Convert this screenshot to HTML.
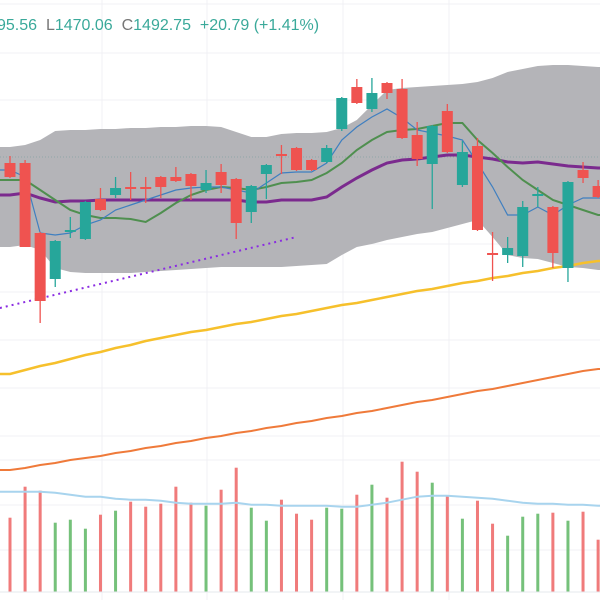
<!DOCTYPE html>
<html><head><meta charset="utf-8"><style>
html,body{margin:0;padding:0;background:#fff;width:600px;height:600px;overflow:hidden}
#hdr{position:absolute;left:-3px;top:17px;font:16px "Liberation Sans",sans-serif;color:#3aa99a;white-space:nowrap}
#hdr .g{color:#777}
</style></head><body>
<svg id="chart" width="600" height="600" viewBox="0 0 600 600" style="position:absolute;left:0;top:0"></svg>
<div id="hdr"><span>95.56</span>&nbsp; <span class="g">L</span><span>1470.06</span>&nbsp; <span class="g">C</span><span>1492.75</span>&nbsp; <span>+20.79 (+1.41%)</span></div>
<script>
const opens=[1437,1437,1367,1321,1368,1361,1401,1405,1413,1413,1423,1423,1426,1410,1428,1421,1388,1426,1446,1452,1440,1438,1471,1513,1491,1517,1511,1465,1436,1489,1415,1454,1347,1345,1344,1405,1393,1332,1430,1414];
const highs=[1444,1440,1368,1360,1383,1399,1412,1423,1428,1423,1424,1433,1427,1430,1436,1422,1415,1436,1455,1453,1441,1455,1503,1521,1522,1518,1521,1478,1475,1496,1459,1462,1368,1363,1399,1413,1394,1419,1438,1420];
const lows=[1422,1353,1277,1313,1362,1360,1389,1402,1400,1397,1402,1418,1400,1407,1407,1361,1377,1401,1426,1429,1429,1437,1469,1496,1488,1501,1461,1434,1391,1447,1413,1369,1319,1337,1333,1393,1332,1318,1417,1402];
const closes=[1423,1353,1299,1359,1370,1398,1390,1412,1412,1411,1413,1419,1414,1417,1415,1377,1414,1435,1445,1430,1430,1452,1502,1497,1507,1507,1462,1441,1474,1448,1448,1370,1345,1352,1393,1406,1347,1418,1422,1403];
const maFast=[1430,1423,1367,1365,1367,1375,1380,1390,1395,1400,1405,1410,1412,1413,1413,1410,1407,1417,1427,1428,1428,1437,1460,1473,1483,1491,1482,1470,1467,1464,1460,1437,1413,1385,1385,1393,1385,1395,1402,1402];
const maMid=[1420,1420,1410,1400,1390,1385,1382,1382,1381,1378,1387,1397,1405,1410,1413,1412,1410,1413,1417,1418,1420,1427,1437,1450,1460,1468,1470,1471,1474,1477,1477,1460,1447,1433,1420,1410,1400,1395,1390,1385];
const maSlow=[1405,1407,1402,1398,1399,1399,1400,1400,1400,1400,1400,1400,1400,1400,1400,1400,1398,1398,1400,1400,1400,1403,1413,1422,1430,1437,1440,1441,1443,1445,1445,1443,1441,1438,1437,1438,1436,1434,1433,1432];
const bbUpper=[1453,1455,1460,1469,1470,1470,1471,1471,1472,1472,1473,1473,1474,1474,1473,1468,1463,1463,1466,1467,1467,1468,1472,1480,1495,1510,1512,1513,1514,1515,1516,1518,1522,1528,1531,1534,1535,1535,1534,1533];
const bbLower=[1353,1355,1350,1332,1328,1327,1327,1327,1327,1328,1329,1330,1331,1332,1333,1333,1333,1333,1333,1334,1335,1336,1345,1353,1356,1360,1363,1366,1368,1372,1376,1380,1363,1345,1342,1341,1337,1333,1332,1330];
const ma100=[1226,1230,1234,1237,1241,1245,1248,1252,1255,1259,1262,1265,1268,1270,1273,1276,1278,1281,1284,1286,1289,1292,1295,1297,1300,1303,1306,1309,1311,1314,1317,1319,1322,1324,1327,1329,1332,1334,1337,1339];
const ma200=[1130,1132,1135,1137,1140,1142,1144,1147,1149,1152,1154,1157,1159,1162,1164,1167,1169,1172,1174,1177,1179,1182,1184,1187,1189,1192,1195,1198,1200,1203,1206,1209,1211,1214,1217,1220,1223,1226,1229,1231];
const volumes=[74,105,101,69,72,63,77,81,90,85,88,105,89,86,102,124,84,71,92,78,72,84,83,97,107,94,130,120,109,96,73,91,68,56,75,78,79,71,80,52];
const volMA=[100,100,100,99,97,95,95,93,92,92,91,89,88,88,88,89,87,87,86,86,86,86,85,85,87,89,92,95,96,96,95,94,93,91,89,88,88,87,87,86];
const trendPts=[[-0.67,1292],[19,1363]];
const lastPrice=1443;

const svg=document.getElementById('chart');
const NS='http://www.w3.org/2000/svg';
const x=i=>10+15.08*i;
const y=v=>1600-v;
const vy=v=>591.7-v;
function mk(tag,attrs,parent){const e=document.createElementNS(NS,tag);for(const k in attrs)e.setAttribute(k,attrs[k]);(parent||svg).appendChild(e);return e;}
const n=opens.length;
function pts(arr,fy){const p=[[0,fy(arr[0])]];arr.forEach((v,i)=>p.push([x(i),fy(v)]));p.push([600,fy(arr[n-1])]);return p;}
function pathOf(p){return p.map((q,i)=>(i?'L':'M')+q[0].toFixed(1)+' '+q[1].toFixed(1)).join(' ');}

const grid=mk('g',{});


[102,207,343,449].forEach(gx=>mk('line',{x1:gx,x2:gx,y1:0,y2:600,stroke:'#f0f1f4','stroke-width':1},grid));
[4,53,100,148,196,244,292,340,388,436,460,505,550].forEach(gy=>mk('line',{x1:0,x2:600,y1:gy,y2:gy,stroke:'#f0f1f4','stroke-width':1},grid));

const up=pts(bbUpper,y),lo=pts(bbLower,y).reverse();
const band=mk('path',{d:pathOf(up)+' '+lo.map(q=>'L'+q[0].toFixed(1)+' '+q[1].toFixed(1)).join(' ')+'Z',fill:'#b4b4b8'});



const lp=mk('line',{x1:0,x2:600,y1:y(lastPrice),y2:y(lastPrice),stroke:'#8fa6a8','stroke-width':1,'stroke-dasharray':'1 2'});



const l200=mk('path',{d:pathOf(pts(ma200,y)),fill:'none',stroke:'#ef7a3a','stroke-width':2});


const l100=mk('path',{d:pathOf(pts(ma100,y)),fill:'none',stroke:'#f6c02c','stroke-width':2.5});



const tl=mk('line',{x1:x(trendPts[0][0]),y1:y(trendPts[0][1]),x2:x(trendPts[1][0]),y2:y(trendPts[1][1]),stroke:'#8a2be2','stroke-width':2,'stroke-dasharray':'2 4'});



const ls=mk('path',{d:pathOf(pts(maSlow,y)),fill:'none',stroke:'#7b2a8e','stroke-width':3});


const lm=mk('path',{d:pathOf(pts(maMid,y)),fill:'none',stroke:'#4f8f4f','stroke-width':2});


const lf=mk('path',{d:pathOf(pts(maFast,y)),fill:'none',stroke:'#3f7fc0','stroke-width':1.2});



for(let i=0;i<n;i++){
  const upC=closes[i]>opens[i];
  const col=upC?'#26a69a':'#ef5350';
  const g=mk('g',{});
  
  
  mk('line',{x1:x(i),x2:x(i),y1:y(highs[i]),y2:y(lows[i]),stroke:col,'stroke-width':1.3},g);
  const top=y(Math.max(opens[i],closes[i])),bot=y(Math.min(opens[i],closes[i]));
  mk('rect',{x:x(i)-5.5,y:top,width:11,height:Math.max(2,bot-top),fill:col},g);
}

for(let i=0;i<n;i++){
  const upC=closes[i]>opens[i];
  const b=mk('rect',{x:x(i)-1.5,y:vy(volumes[i]),width:3,height:volumes[i],fill:upC?'#75c17a':'#f07b7b'});
  
  
}
const vm=mk('path',{d:pathOf(pts(volMA,vy)),fill:'none',stroke:'#a8d4ee','stroke-width':2});


mk('line',{x1:0,x2:600,y1:592,y2:592,stroke:'#e6e8ee','stroke-width':1});
</script>
</body></html>
